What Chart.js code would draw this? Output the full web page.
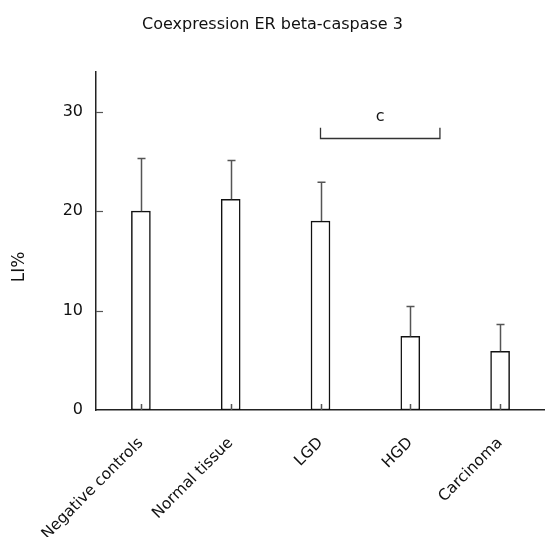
<!DOCTYPE html>
<html>
<head>
<meta charset="utf-8">
<script src="https://cdn.jsdelivr.net/npm/chart.js@4/dist/chart.umd.min.js"></script>
<style>
html,body{margin:0;padding:0;background:#fff;}
#wrap{width:545px;height:537px;position:relative;}
</style>
</head>
<body>
<div id="wrap"><canvas id="c" width="545" height="537"></canvas></div>
<script>
const categories = ["Negative controls", "Normal tissue", "LGD", "HGD", "Carcinoma"];
const meanValues = [20.0, 21.2, 19.0, 7.4, 5.9];
const sdValues = [5.3, 3.9, 3.9, 3.0, 2.7];
const yTicks = [0, 10, 20, 30];
const titleText = "Coexpression ER beta-caspase 3";
const yAxisLabel = "LI%";
// significance bracket: from category index to category position, at value
const bracketFrom = [2];
const bracketTo = [3.33];
const bracketLevel = [27.4];
const bracketLabel = ["c"];

const FONT = "Tahoma, 'DejaVu Sans', sans-serif";

const decor = {
  id: 'decor',
  afterDatasetsDraw(chart) {
    const ctx = chart.ctx;
    const x = chart.scales.x, y = chart.scales.y;
    const area = chart.chartArea;
    ctx.save();
    // error bars
    ctx.strokeStyle = '#555';
    ctx.lineWidth = 1.5;
    meanValues.forEach((m, i) => {
      const cx = Math.round(x.getPixelForValue(i)) + 0.5;
      const yTop = y.getPixelForValue(m);
      const yErr = y.getPixelForValue(m + sdValues[i]);
      ctx.beginPath();
      ctx.moveTo(cx, yTop);
      ctx.lineTo(cx, yErr);
      ctx.moveTo(cx - 4, yErr);
      ctx.lineTo(cx + 4, yErr);
      // small lower stub
      const y0 = y.getPixelForValue(0);
      ctx.moveTo(cx, y0);
      ctx.lineTo(cx, y0 - 6);
      ctx.stroke();
    });
    // y ticks inward
    ctx.strokeStyle = '#555';
    ctx.lineWidth = 1.2;
    yTicks.forEach(t => {
      if (t === 0) return;
      const py = Math.round(y.getPixelForValue(t)) + 0.5;
      ctx.beginPath();
      ctx.moveTo(area.left, py);
      ctx.lineTo(area.left + 7, py);
      ctx.stroke();
    });
    // bracket
    ctx.strokeStyle = '#333';
    ctx.lineWidth = 1.3;
    ctx.fillStyle = '#111';
    ctx.font = "16px " + FONT;
    ctx.textAlign = 'center';
    ctx.textBaseline = 'middle';
    bracketFrom.forEach((f, k) => {
      const x1 = x.getPixelForValue(f);
      const x2 = x.getPixelForValue(bracketTo[k]);
      const by = Math.round(y.getPixelForValue(bracketLevel[k])) + 0.5;
      const bt = y.getPixelForValue(bracketLevel[k] + 1);
      ctx.beginPath();
      ctx.moveTo(x1, bt);
      ctx.lineTo(x1, by);
      ctx.lineTo(x2, by);
      ctx.lineTo(x2, bt);
      ctx.stroke();
      ctx.fillText(bracketLabel[k], (x1 + x2) / 2, y.getPixelForValue(bracketLevel[k] + 2.1));
    });
    // y axis label
    ctx.save();
    ctx.translate(20, (area.top + area.bottom) / 2 + 26);
    ctx.rotate(-Math.PI / 2);
    ctx.font = "17px " + FONT;
    ctx.fillStyle = '#111';
    ctx.fillText(yAxisLabel, 0, 0);
    ctx.restore();
    ctx.restore();
  }
};

new Chart(document.getElementById('c'), {
  type: 'bar',
  data: {
    labels: categories,
    datasets: [{
      data: meanValues,
      backgroundColor: '#fff',
      borderColor: '#111',
      borderWidth: 1.5,
      borderSkipped: false,
      barThickness: 19
    }]
  },
  options: {
    responsive: false,
    animation: false,
    events: [],
    layout: { padding: { left: 0, right: 0, top: 0, bottom: 0 } },
    plugins: {
      legend: { display: false },
      tooltip: { enabled: false },
      title: {
        display: true,
        text: titleText,
        color: '#111',
        font: { family: FONT, size: 16, weight: 'normal' },
        padding: { top: 15, bottom: 37.8 }
      }
    },
    scales: {
      x: {
        offset: true,
        grid: { display: false, drawTicks: false },
        border: { display: true, color: '#222', width: 1.5 },
        ticks: {
          color: '#111',
          font: { family: FONT, size: 15.5 },
          maxRotation: 45,
          minRotation: 45,
          padding: 24
        },
        afterFit(s) { s.height = 127; }
      },
      y: {
        min: 0,
        max: 34,
        grid: { display: false, drawTicks: false },
        border: { display: true, color: '#222', width: 1.5 },
        afterBuildTicks(s) { s.ticks = yTicks.map(v => ({ value: v })); },
        ticks: {
          color: '#111',
          font: { family: FONT, size: 16 },
          padding: 13
        },
        afterFit(s) { s.width = 96; }
      }
    }
  },
  plugins: [decor]
});
</script>
</body>
</html>
